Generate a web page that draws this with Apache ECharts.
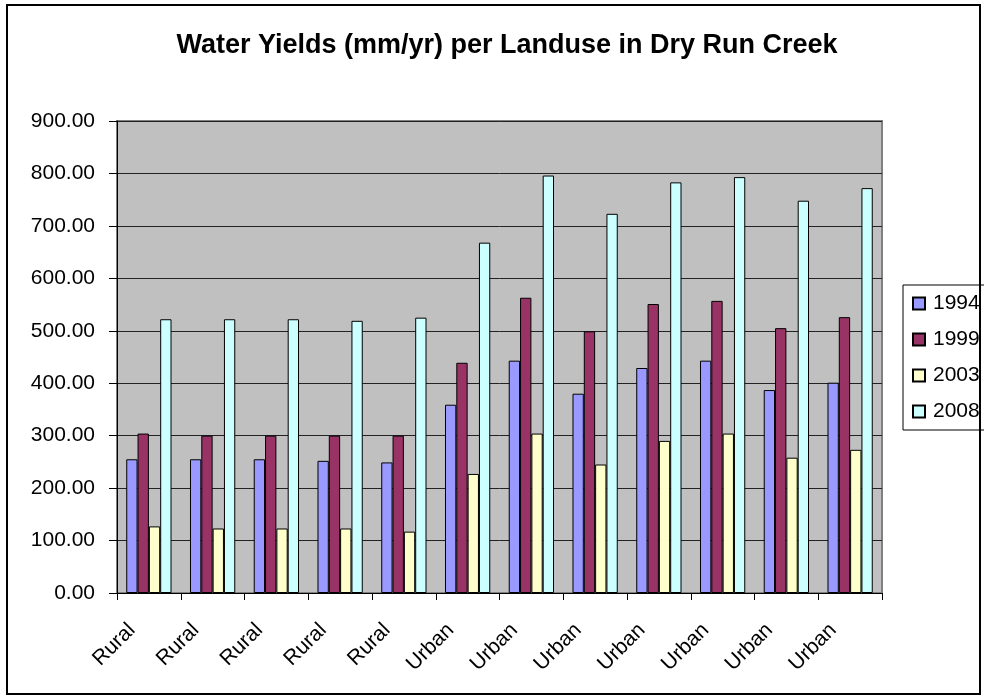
<!DOCTYPE html>
<html>
<head>
<meta charset="utf-8">
<script src="https://cdn.jsdelivr.net/npm/echarts@6/dist/echarts.min.js"></script>
<style>
  html, body { margin: 0; padding: 0; background: #fff; }
  #chart { width: 984px; height: 698px; }
</style>
</head>
<body>
<div id="chart"></div>
<script>
// Land use class of each sub-basin
const categories = ['Rural', 'Rural', 'Rural', 'Rural', 'Rural',
  'Urban', 'Urban', 'Urban', 'Urban', 'Urban', 'Urban', 'Urban'];

// Water yield (mm/yr) per year
const years = ['1994', '1999', '2003', '2008'];
const yield1994 = [255, 255, 255, 252, 249, 359, 443, 380, 429, 443, 387, 401];
const yield1999 = [304, 300, 300, 300, 300, 439, 563, 499, 551, 557, 505, 526];
const yield2003 = [127, 123, 123, 123, 117, 227, 304, 245, 290, 304, 258, 273];
const yield2008 = [522, 522, 522, 519, 525, 668, 796, 723, 783, 793, 748, 772];

const yTicks = [0, 100, 200, 300, 400, 500, 600, 700, 800, 900];

const colors = ['#9999FF', '#993366', '#FFFFCC', '#CCFFFF'];
const seriesData = [yield1994, yield1999, yield2003, yield2008];

const font = 'Liberation Sans, Arial, sans-serif';

const chart = echarts.init(document.getElementById('chart'));

chart.setOption({
  animation: false,
  backgroundColor: '#ffffff',
  textStyle: { fontFamily: font, color: '#000' },
  title: {
    text: 'Water Yields (mm/yr) per Landuse in Dry Run Creek',
    left: 502,
    top: 27,
    textAlign: 'center',
    textStyle: { fontFamily: font, fontSize: 27, fontWeight: 'bold', color: '#000' }
  },
  legend: {
    orient: 'vertical',
    left: 903,
    top: 285,
    padding: [8, 40, 8, 9],
    borderColor: '#000',
    borderWidth: 1,
    itemWidth: 12,
    itemHeight: 12,
    itemGap: 15,
    icon: 'rect',
    textStyle: { fontFamily: font, fontSize: 21, lineHeight: 21, color: '#000', padding: [0, 0, 0, 3] },
    data: years
  },
  grid: {
    left: 117,
    right: 102,
    top: 121,
    bottom: 105,
    show: true,
    backgroundColor: '#C0C0C0',
    borderColor: '#808080',
    borderWidth: 2
  },
  xAxis: {
    type: 'category',
    data: categories,
    axisLine: { lineStyle: { color: '#000', width: 1 } },
    axisTick: { show: true, length: 7, lineStyle: { color: '#000' } },
    axisLabel: {
      rotate: 45,
      margin: 17,
      interval: 0,
      fontFamily: font,
      fontSize: 21,
      color: '#000',
      padding: [0, 24, 0, 0]
    }
  },
  yAxis: {
    type: 'value',
    min: yTicks[0],
    max: yTicks[yTicks.length - 1],
    interval: 100,
    axisLine: { show: true, lineStyle: { color: '#000', width: 1 } },
    axisTick: { show: true, length: 8, lineStyle: { color: '#000' } },
    splitLine: { show: true, lineStyle: { color: '#222', width: 1 } },
    axisLabel: {
      fontFamily: font,
      fontSize: 21,
      color: '#000',
      margin: 22,
      formatter: v => v.toFixed(2)
    }
  },
  series: years.map((y, i) => ({
    name: y,
    type: 'bar',
    data: seriesData[i],
    barGap: '0%',
    barCategoryGap: '29%',
    itemStyle: { color: colors[i], borderColor: '#000', borderWidth: 1 }
  })),
  graphic: [{
    type: 'rect',
    shape: { x: 7, y: 5, width: 973, height: 689 },
    style: { fill: 'none', stroke: '#000', lineWidth: 2 },
    silent: true,
    z: 100
  }]
});
</script>
</body>
</html>
